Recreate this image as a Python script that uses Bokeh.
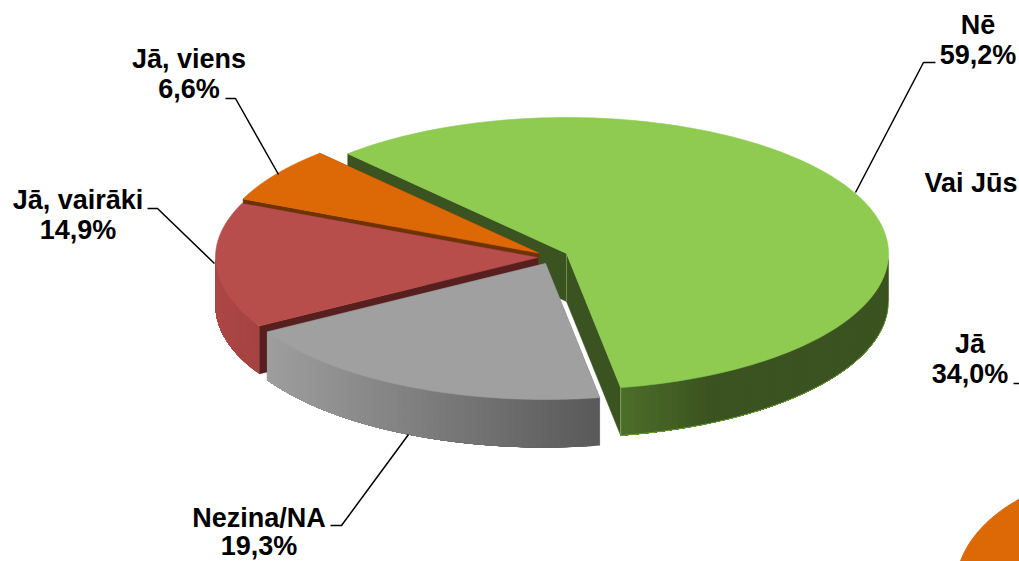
import numpy as np
from bokeh.core.properties import value
from bokeh.embed import file_html
from bokeh.models import Range1d
from bokeh.plotting import figure
from bokeh.resources import INLINE

# ---- data ----
categories = ["Nē", "Nezina/NA", "Jā, vairāki", "Jā, viens"]
shares = [59.2, 19.3, 14.9, 6.6]
share_labels = ["59,2%", "19,3%", "14,9%", "6,6%"]
second_pie_category = "Jā"
second_pie_share = 34.0
second_pie_label = "34,0%"
partial_title = "Vai Jūs"

# ---- layout / style ----
START_ANGLE = -42.8
RX, RY, DEPTH = 322, 136, 48
CENTRES = [(566, 253), (545, 263), (537, 257), (538, 252.5)]
TOP = ["#8ECB50", "#A0A0A0", "#B84E4C", "#DD6806"]
CUT = ["#3B5320", "#6E6E6E", "#57201F", "#6E3300"]
WALL_L = ["#4D6E29", "#9E9E9E", "#AC4846", "#A85004"]
WALL_R = ["#3B5320", "#595959", "#A54341", "#A85004"]
LABEL_POS = [(977.5, 24, 977.5, 54), (258.5, 517, 258.5, 545), (77.5, 199, 77.5, 229), (188.5, 58, 188.5, 88)]
PAINT_ORDER = [0, 3, 2, 1]
LEADERS = [
    ([855, 923, 935], [192, 62, 62]),
    ([408, 341, 330], [434, 525, 525]),
    ([214, 157, 147], [263, 208, 208]),
    ([278, 235, 225], [174, 98, 98]),
    ([1013, 1019], [383, 383]),
]


def arc(cx, cy, t0, t1, n=60, a=RX, b=RY):
    t = np.radians(np.linspace(t0, t1, n))
    return cx + a * np.sin(t), cy - b * np.cos(t)


def mix(c0, c1, f):
    a = np.array([int(c0[i:i + 2], 16) for i in (1, 3, 5)])
    b = np.array([int(c1[i:i + 2], 16) for i in (1, 3, 5)])
    r = (a + (b - a) * f).round().astype(int)
    return "#%02x%02x%02x" % tuple(r)


p = figure(width=1019, height=561, output_backend="svg", toolbar_location=None,
           x_range=Range1d(0, 1019), y_range=Range1d(561, 0),
           min_border=0, outline_line_color=None)
p.axis.visible = False
p.grid.visible = False

bounds = START_ANGLE + np.concatenate([[0], np.cumsum(shares)]) * 3.6
for i in PAINT_ORDER:
    t0, t1 = bounds[i], bounds[i + 1]
    cx, cy = CENTRES[i]
    # cut faces
    for edge in (t0, t1):
        ex, ey = arc(cx, cy, edge, edge, 1)
        p.patch([cx, ex[0], ex[0], cx], [cy, ey[0], ey[0] + DEPTH, cy + DEPTH],
                fill_color=CUT[i], line_color=CUT[i], line_width=0.5)
    # outer wall: only the part facing the viewer, painted in overlapping strips
    lo, hi = max(t0, 90), min(t1, 270)
    if hi > lo:
        edges = np.linspace(lo, hi, 61)
        ax, _ = arc(cx, cy, lo, lo, 1)
        bx, _ = arc(cx, cy, hi, hi, 1)
        x_vis_l, x_vis_r = min(ax[0], bx[0]), max(ax[0], bx[0])
        xs, ys, cols = [], [], []
        for e0, e1 in zip(edges[:-1], edges[1:]):
            x, y = arc(cx, cy, e0, hi, 40)
            xs.append(list(x) + list(x[::-1]))
            ys.append(list(y) + list(y[::-1] + DEPTH))
            xm = arc(cx, cy, (e0 + e1) / 2, (e0 + e1) / 2, 1)[0][0]
            f = (xm - x_vis_l) / (x_vis_r - x_vis_l)
            if i == 0:
                f = min(1.0, (xm - x_vis_l) / 90)
            cols.append(mix(WALL_L[i], WALL_R[i], f))
        p.patches(xs, ys, fill_color=cols, line_color=None)
        if i == 0:
            x, y = arc(cx, cy, lo, hi, 80)
            p.line(x, y + DEPTH, line_color="#8ECB50", line_width=1, line_alpha=0.6)
            p.line([bx[0], bx[0]], [cy + RY * 0.986, cy + RY * 0.986 + DEPTH],
                   line_color="#7FA84F", line_width=1)
            p.line([cx, cx], [cy, cy + DEPTH], line_color="#6E8F3E", line_width=1)
    # top face
    x, y = arc(cx, cy, t0, t1, 160)
    p.patch([cx, *x], [cy, *y], fill_color=TOP[i], line_color=TOP[i], line_width=0.6)

# visible corner of the neighbouring pie
sx, sy = arc(1135, 588, 200, 200 + second_pie_share * 3.6, 80, a=180, b=117)
p.patch([1135, *sx], [588, *sy], fill_color="#DD6806", line_color="#DD6806")

for lx, ly in LEADERS:
    p.line(lx, ly, line_color="#000000", line_width=1.5)

FONT = dict(text_font=value("Liberation Sans"), text_font_style="bold",
            text_color="#000000", text_baseline="middle", text_font_size="27px")
names_x, names_y, names = [], [], []
for (nx, ny, vx, vy), c, l in zip(LABEL_POS, categories, share_labels):
    names_x += [nx, vx]
    names_y += [ny, vy]
    names += [c, l]
names_x += [969.5, 969.5]
names_y += [343, 373]
names += [second_pie_category, second_pie_label]
p.text(names_x, names_y, text=names, text_align="center", **FONT)
p.text([924], [182], text=[partial_title], text_align="left", **FONT)

open("out.html", "w").write(file_html(p, INLINE))
